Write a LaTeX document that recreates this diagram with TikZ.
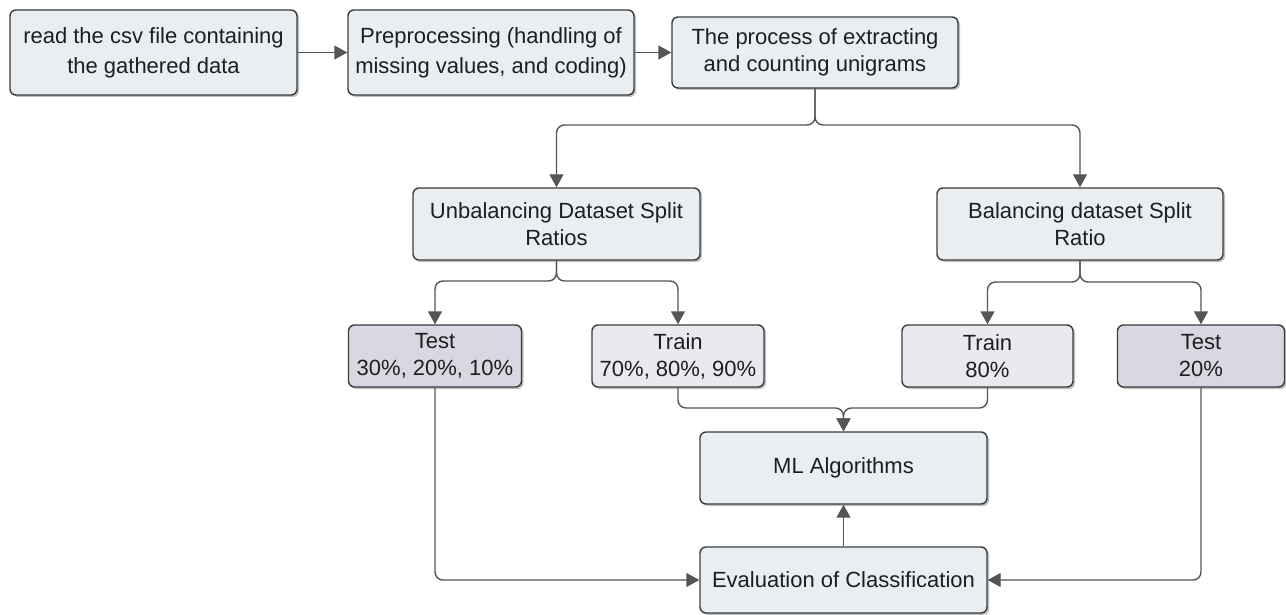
\documentclass[tikz,border=0pt]{standalone}
\usepackage{fontspec}
\setmainfont{Liberation Sans}
\usetikzlibrary{arrows.meta,shadows}
\definecolor{mainfill}{HTML}{E8EEF1}
\definecolor{testfill}{HTML}{D9D8E2}
\definecolor{trainfill}{HTML}{EAE9EF}
\definecolor{edgecol}{HTML}{3C3C3C}
\definecolor{linecol}{HTML}{555555}
\definecolor{txtcol}{HTML}{1E1E1E}
\tikzset{
  box/.style={draw=edgecol, line width=1.4pt, rounded corners=6pt, fill=mainfill,
    align=center, text=txtcol, inner sep=0pt,
    font=\fontsize{22}{27}\selectfont,
    drop shadow={shadow xshift=2pt, shadow yshift=-2pt, opacity=0.25, fill=black}},
  testbox/.style={box, fill=testfill},
  trainbox/.style={box, fill=trainfill},
  conn/.style={draw=linecol, line width=1.4pt, rounded corners=8pt,
    -{Triangle[length=13pt,width=14pt]}}
}
\begin{document}
\begin{tikzpicture}[x=1pt,y=-1pt]
\useasboundingbox (0,0) rectangle (1286,615);
\node[box, minimum width=287pt, minimum height=85pt] (read) at (153.5,52.5)
  {read the csv file containing\\[3pt]the gathered data};
\node[box, minimum width=286pt, minimum height=85pt] (prep) at (491,52.5)
  {Preprocessing (handling of\\[3pt]missing values, and coding)};
\node[box, minimum width=286pt, minimum height=71pt] (uni) at (815,52.5)
  {The process of extracting\\and counting unigrams};
\node[box, minimum width=287pt, minimum height=72pt] (unb) at (556.5,224)
  {Unbalancing Dataset Split\\Ratios};
\node[box, minimum width=286pt, minimum height=72pt] (bal) at (1080,224)
  {Balancing dataset Split\\Ratio};
\node[testbox, minimum width=173pt, minimum height=62pt] (testl) at (435,356)
  {Test\\30\%, 20\%, 10\%};
\node[trainbox, minimum width=172pt, minimum height=62pt] (trainl) at (678,356)
  {Train\\70\%, 80\%, 90\%};
\node[trainbox, minimum width=171pt, minimum height=62pt] (trainr) at (987.5,356)
  {Train\\80\%};
\node[testbox, minimum width=167pt, minimum height=62pt] (testr) at (1201,356)
  {Test\\20\%};
\node[box, minimum width=287pt, minimum height=72pt] (ml) at (843.5,468)
  {ML Algorithms};
\node[box, minimum width=287pt, minimum height=66pt] (eval) at (843.5,580)
  {Evaluation of Classification};

\draw[conn] (read.east) -- (prep.west);
\draw[conn] (prep.east) -- (uni.west);
\draw[conn] (uni.south) |- (690,125) -| (unb.north);
\draw[conn] (uni.south) |- (940,125) -| (bal.north);
\draw[conn] (unb.south) |- (500,281) -| (testl.north);
\draw[conn] (unb.south) |- (620,281) -| (trainl.north);
\draw[conn] (bal.south) |- (1030,282) -| (trainr.north);
\draw[conn] (bal.south) |- (1150,282) -| (testr.north);
\draw[conn] (trainl.south) |- (760,408) -| (ml.north);
\draw[conn] (trainr.south) |- (920,408) -| (ml.north);
\draw[conn] (testl.south) |- (eval.west);
\draw[conn] (testr.south) |- (eval.east);
\draw[conn] (eval.north) -- (ml.south);
\end{tikzpicture}
\end{document}
